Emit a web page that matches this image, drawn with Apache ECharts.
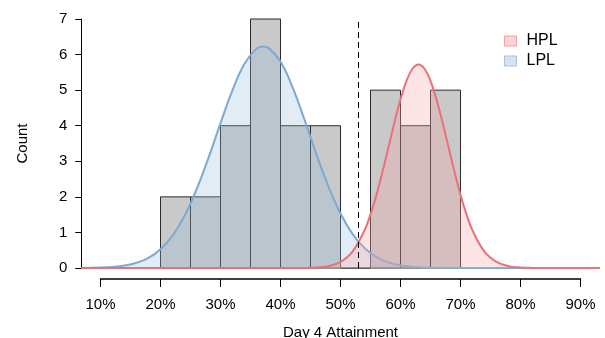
<!DOCTYPE html>
<html>
<head>
<meta charset="utf-8">
<script src="https://cdn.jsdelivr.net/npm/echarts@6/dist/echarts.min.js"></script>
<style>html,body{margin:0;padding:0;background:#fff;}#c{width:605px;height:338px;}</style>
</head>
<body>
<div id="c"></div>
<script>
// Histogram bins (percent) and counts
const binLo = [20, 25, 30, 35, 40, 45, 50, 55, 60, 65];
const binHi = [25, 30, 35, 40, 45, 50, 55, 60, 65, 70];
const counts = [2, 2, 4, 7, 4, 4, 0, 5, 4, 5];

// LPL density curve
const lplX = [6.8, 10, 12, 14, 16, 18, 20, 22, 24, 26, 28, 30, 32, 34, 36, 37, 38, 40, 42, 44, 46, 48, 50, 52, 54, 56, 58, 60, 62, 64, 66, 70, 75, 80, 85, 90, 93.2];
const lplY = [0.003, 0.013, 0.031, 0.069, 0.146, 0.287, 0.529, 0.911, 1.466, 2.204, 3.099, 4.073, 5.003, 5.745, 6.167, 6.23, 6.188, 5.804, 5.088, 4.170, 3.194, 2.288, 1.531, 0.958, 0.560, 0.307, 0.157, 0.075, 0.033, 0.014, 0.005, 0.001, 0, 0, 0, 0, 0];

// HPL density curve
const hplX = [6.8, 20, 30, 40, 44, 46, 48, 50, 52, 54, 55, 56, 57, 58, 59, 60, 61, 62, 63, 64, 65, 66, 67, 68, 69, 70, 71, 72, 74, 76, 78, 80, 82, 84, 88, 93.2];
const hplY = [0, 0, 0, 0, 0.003, 0.014, 0.053, 0.170, 0.460, 1.059, 1.508, 2.062, 2.703, 3.399, 4.099, 4.742, 5.263, 5.602, 5.72, 5.602, 5.263, 4.742, 4.099, 3.399, 2.703, 2.062, 1.508, 1.059, 0.460, 0.170, 0.053, 0.014, 0.003, 0.001, 0, 0];

// Axis ticks
const xTicks = [10, 20, 30, 40, 50, 60, 70, 80, 90];
const yTicks = [0, 1, 2, 3, 4, 5, 6, 7];
const cutoff = 53;

const FONT = 'Liberation Sans, Arial, Helvetica, sans-serif';

const chart = echarts.init(document.getElementById('c'), null, {renderer: 'canvas'});

const barData = binLo.map((lo, i) => [lo, binHi[i], counts[i]]);
const lplData = lplX.map((x, i) => [x, lplY[i]]);
const hplData = hplX.map((x, i) => [x, hplY[i]]);

chart.setOption({
  animation: false,
  backgroundColor: '#ffffff',
  grid: [
    {left: 81.3, right: 5.3, top: 19, bottom: 70, containLabel: false, outerBoundsMode: 'none'},
    {left: 100.5, right: 24.5, top: 19, bottom: 59, containLabel: false, outerBoundsMode: 'none'}
  ],
  legend: {
    orient: 'vertical',
    left: 504,
    top: 33,
    padding: 0,
    itemWidth: 12,
    itemHeight: 10,
    itemGap: 4,
    icon: 'rect',
    textStyle: {fontFamily: FONT, fontSize: 16, color: '#000', padding: [0, 0, 0, 5]},
    data: [
      {name: 'HPL', itemStyle: {color: '#fdd5d5', borderColor: '#f0a0a3', borderWidth: 1}},
      {name: 'LPL', itemStyle: {color: '#d6e2ef', borderColor: '#a6c3de', borderWidth: 1}}
    ]
  },
  xAxis: [
    {
      type: 'value', gridIndex: 0, min: 6.8, max: 93.2,
      show: false
    },
    {
      type: 'value', gridIndex: 1, min: xTicks[0], max: xTicks[xTicks.length - 1], interval: 10,
      position: 'bottom', z: 20,
      axisLine: {show: true, onZero: false, lineStyle: {color: '#000', width: 1.5}},
      axisTick: {show: true, length: 8, lineStyle: {color: '#000', width: 1}},
      axisLabel: {formatter: '{value}%', fontFamily: FONT, fontSize: 15, color: '#000', margin: 18},
      splitLine: {show: false},
      name: 'Day 4 Attainment', nameLocation: 'middle', nameGap: 46,
      nameTextStyle: {fontFamily: FONT, fontSize: 15, color: '#000'}
    }
  ],
  yAxis: [
    {
      type: 'value', gridIndex: 0, min: yTicks[0], max: yTicks[yTicks.length - 1], interval: 1,
      axisLine: {show: true, onZero: false, lineStyle: {color: '#000', width: 1}},
      axisTick: {show: true, length: 6, lineStyle: {color: '#000', width: 1}},
      axisLabel: {fontFamily: FONT, fontSize: 15, color: '#000', margin: 14},
      splitLine: {show: false},
      name: 'Count', nameLocation: 'middle', nameGap: 51, nameRotate: 90,
      nameTextStyle: {fontFamily: FONT, fontSize: 15, color: '#000'}
    },
    {
      type: 'value', gridIndex: 1, min: 0, max: 7, show: false
    }
  ],
  series: [
    {
      type: 'custom',
      name: 'hist',
      xAxisIndex: 0, yAxisIndex: 0,
      data: barData,
      z: 1,
      renderItem: function (params, api) {
        const p0 = api.coord([api.value(0), 0]);
        const p1 = api.coord([api.value(1), api.value(2)]);
        return {
          type: 'rect',
          shape: {x: p0[0], y: p1[1], width: p1[0] - p0[0], height: p0[1] - p1[1]},
          style: {fill: '#c9c9c9', stroke: '#2b2b2b', lineWidth: 1}
        };
      }
    },
    {
      type: 'line',
      name: 'LPL',
      xAxisIndex: 0, yAxisIndex: 0,
      data: lplData,
      smooth: 0.4,
      showSymbol: false,
      z: 3,
      lineStyle: {color: '#7ea9d1', width: 2},
      itemStyle: {color: '#7ea9d1'},
      areaStyle: {color: 'rgba(150,185,220,0.4)'},
      markLine: {
        silent: true,
        symbol: ['none', 'none'],
        label: {show: false},
        lineStyle: {color: '#000', type: [6, 4], width: 1},
        data: [{xAxis: cutoff}]
      }
    },
    {
      type: 'line',
      name: 'HPL',
      xAxisIndex: 0, yAxisIndex: 0,
      data: hplData,
      smooth: 0.4,
      showSymbol: false,
      z: 4,
      lineStyle: {color: '#ea7178', width: 2},
      itemStyle: {color: '#ea7178'},
      areaStyle: {color: 'rgba(250,166,166,0.44)'}
    }
  ]
});
</script>
</body>
</html>
